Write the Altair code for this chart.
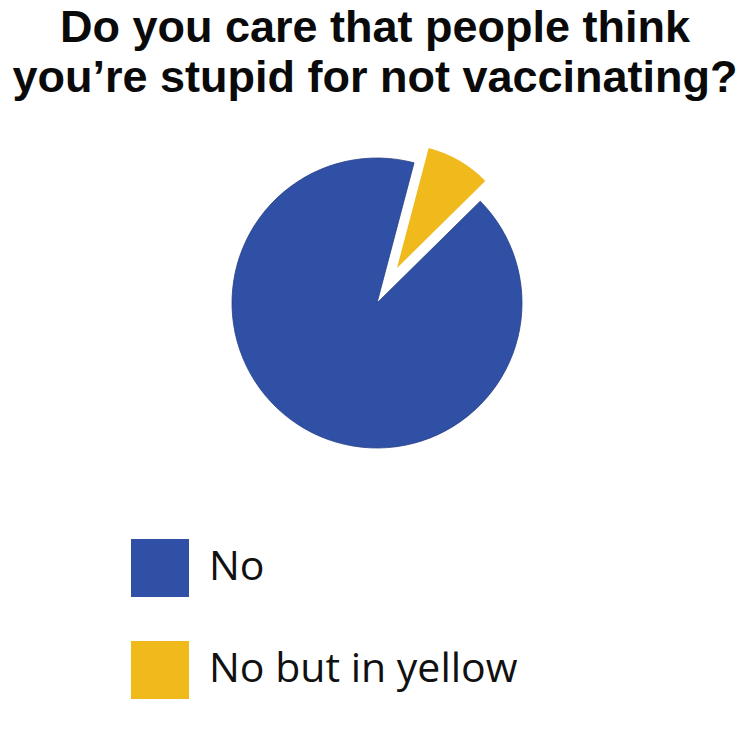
import math
import altair as alt
import pandas as pd

# ---- data ----
title_lines = ["Do you care that people think", "you\u2019re stupid for not vaccinating?"]
categories = ["No", "No but in yellow"]
shares = [91.5, 8.5]
colors = ["#2F50A5", "#F0B91C"]

data = pd.DataFrame({"answer": categories, "share": shares})

start = math.radians(14.8)
theta_scale = alt.Scale(range=[start, start + 2 * math.pi])
color_scale = alt.Scale(domain=categories, range=colors)

TOP = 118

base = alt.Chart(data).encode(
    theta=alt.Theta("share:Q", stack=True, scale=theta_scale),
    order=alt.Order("answer:N", sort="descending"),
)

blue = base.mark_arc(outerRadius=145, stroke="#243f85", strokeWidth=0.8).encode(
    x=alt.value(377),
    y=alt.value(303 - TOP),
    color=alt.Color(
        "answer:N",
        scale=color_scale,
        legend=alt.Legend(
            title=None,
            orient="none",
            legendX=131,
            legendY=539 - TOP,
            symbolType="square",
            symbolSize=3364,
            symbolStrokeWidth=0,
            symbolOpacity=1,
            labelFontSize=41,
            labelFont="Open Sans",
            labelColor="#111111",
            labelOffset=20,
            rowPadding=44,
            labelLimit=450,
        ),
    ),
    opacity=alt.condition(alt.datum.answer == "No", alt.value(1), alt.value(0)),
)

yellow = base.mark_arc(outerRadius=124).encode(
    x=alt.value(397),
    y=alt.value(268 - TOP),
    color=alt.Color("answer:N", scale=color_scale, legend=None),
    opacity=alt.condition(alt.datum.answer == "No", alt.value(0), alt.value(1)),
)

chart = (
    alt.layer(blue, yellow)
    .properties(
        width=750,
        height=750 - TOP,
        background="white",
        title=alt.Title(
            title_lines,
            font="Liberation Sans",
            fontSize=45,
            fontWeight="bold",
            color="#0a0a0a",
            lineHeight=50,
            anchor="middle",
            offset=17,
        ),
        autosize="none",
        padding={"left": 0, "right": 0, "top": TOP, "bottom": 0},
    )
    .configure_view(strokeWidth=0, stroke="transparent")
)

chart.save("out.html", embed_options={"renderer": "svg", "actions": False})
